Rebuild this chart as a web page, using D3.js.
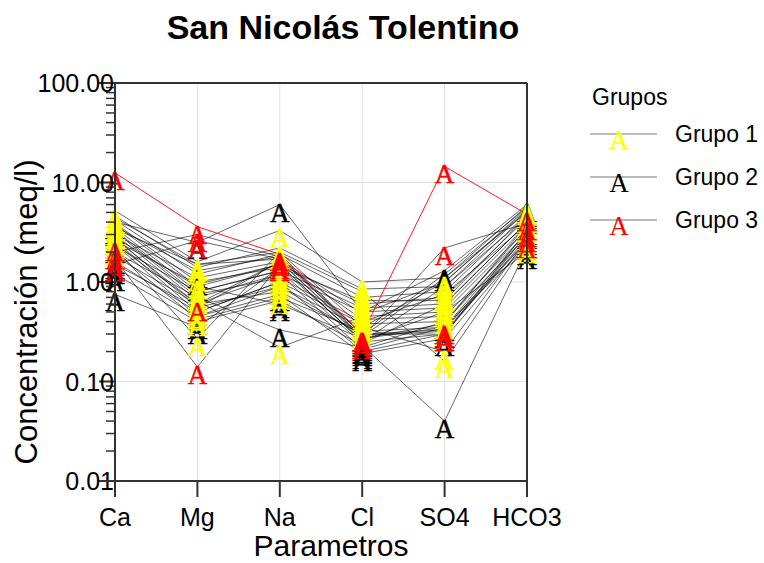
<!DOCTYPE html>
<html>
<head>
<meta charset="utf-8">
<script src="https://cdn.jsdelivr.net/npm/d3@7"></script>
<style>
  body { margin: 0; background: #fff; }
  svg text { font-family: "Liberation Sans", Arial, sans-serif; }
  .grid line { stroke: #e2e2e2; stroke-width: 1; }
  .marker { font-family: "Liberation Serif", "Times New Roman", serif !important; font-size: 27px; stroke-width: 0.5; }
</style>
</head>
<body>
<div id="chart"></div>
<script>
// parametros (eje x)
const params = ["Ca", "Mg", "Na", "Cl", "SO4", "HCO3"];
const yTicks = [100, 10, 1, 0.1, 0.01];
const groupNames = ["Grupo 1", "Grupo 2", "Grupo 3"];

// meq/l por muestra, columnas en el orden de params
const grupo1 = [
  [5.2, 1.6, 3.3, 1.0, 1.1, 5.8],
  [4.6, 1.4, 2.2, 0.85, 0.9, 5.2],
  [4.2, 1.2, 1.9, 0.7, 0.8, 4.8],
  [3.8, 0.9, 1.5, 0.6, 0.7, 4.4],
  [3.5, 0.8, 1.3, 0.55, 0.6, 4.0],
  [3.2, 0.7, 1.2, 0.5, 0.55, 3.7],
  [3.0, 0.65, 0.22, 0.45, 0.5, 3.4],
  [2.8, 0.55, 1.6, 0.42, 0.45, 3.1],
  [2.6, 0.5, 1.0, 0.38, 0.4, 2.9],
  [2.4, 0.45, 0.9, 0.35, 0.2, 2.7],
  [2.2, 0.27, 2.0, 0.8, 0.16, 2.5],
  [3.9, 1.0, 1.4, 0.65, 0.65, 4.6],
  [4.4, 1.5, 1.7, 0.48, 1.0, 5.5],
  [2.7, 0.6, 0.8, 0.3, 0.3, 3.0],
  [3.3, 0.75, 1.1, 0.4, 0.75, 3.8],
  [2.0, 0.42, 0.7, 0.32, 0.35, 2.3]
];
const grupo2 = [
  [4.0, 2.5, 6.0, 0.5, 1.3, 6.0],
  [3.6, 1.3, 1.8, 0.3, 1.2, 5.6],
  [3.0, 1.1, 1.6, 0.28, 1.1, 5.0],
  [2.6, 0.95, 1.5, 0.25, 0.9, 4.5],
  [2.3, 0.8, 1.3, 0.24, 0.6, 4.0],
  [2.0, 0.7, 0.33, 0.22, 0.4, 3.5],
  [1.8, 0.6, 1.2, 0.21, 0.35, 3.2],
  [1.6, 0.5, 1.0, 0.2, 0.3, 2.8],
  [1.4, 0.45, 0.75, 0.19, 0.27, 2.5],
  [1.2, 0.4, 0.65, 0.23, 0.04, 2.2],
  [0.75, 0.35, 1.4, 0.26, 0.5, 2.0],
  [3.4, 1.5, 2.0, 0.35, 1.0, 5.3],
  [2.8, 0.9, 0.6, 0.27, 0.38, 3.8],
  [1.5, 0.55, 0.9, 0.29, 0.32, 2.6]
];
const grupo3 = [
  [12.5, 3.6, 1.9, 0.3, 14.5, 4.8],
  [2.0, 3.0, 1.8, 0.28, 2.2, 3.9],
  [1.7, 0.14, 1.5, 0.25, 0.3, 3.3],
  [1.5, 2.6, 1.7, 0.3, 0.33, 3.0],
  [2.4, 0.6, 1.6, 0.27, 0.35, 2.6]
];

const W = 764, H = 563;
const margin = { left: 115, right: 237, top: 83, bottom: 82 };
const colors = ["#ffff00", "#000000", "#ff0000"];

const svg = d3.select("#chart").append("svg")
  .attr("width", W)
  .attr("height", H);

let x = d3.scalePoint()
  .domain(params)
  .range([margin.left, W - margin.right]);

let y = d3.scaleLog()
  .domain([0.01, 100])
  .range([H - margin.bottom, margin.top]);

// grid
let grid = svg.append("g").attr("class", "grid");
grid.selectAll(".gx")
  .data(params.slice(1, -1))
  .enter().append("line")
    .attr("x1", d => x(d)).attr("x2", d => x(d))
    .attr("y1", margin.top).attr("y2", H - margin.bottom);
grid.selectAll(".gy")
  .data(yTicks.slice(1, -1))
  .enter().append("line")
    .attr("x1", margin.left).attr("x2", W - margin.right)
    .attr("y1", d => y(d)).attr("y2", d => y(d));

// series
let samples = [];
[grupo1, grupo2, grupo3].forEach((g, gi) => {
  g.forEach((vals, si) => samples.push({ group: gi, idx: si, vals: vals }));
});

let line = d3.line()
  .x((d, i) => x(params[i]))
  .y(d => y(d));

svg.append("g").selectAll("path")
  .data(samples)
  .enter().append("path")
    .attr("d", d => line(d.vals))
    .attr("fill", "none")
    .attr("stroke", d => (d.group === 2 && d.idx === 0) ? "#ff0000" : "#000")
    .attr("stroke-opacity", d => (d.group === 2 && d.idx === 0) ? 0.9 : 0.6)
    .attr("stroke-width", 1);

// markers: letra "A" con el vértice en el punto
let markG = svg.append("g");
[1, 0, 2].forEach(gi => {
  samples.filter(s => s.group === gi).forEach(s => {
    s.vals.forEach((v, i) => {
      markG.append("text")
        .attr("class", "marker")
        .attr("x", x(params[i]))
        .attr("y", y(v) + 17)
        .attr("text-anchor", "middle")
        .attr("fill", colors[gi])
        .attr("stroke", colors[gi])
        .text("A");
    });
  });
});

// frame
let frame = svg.append("g")
  .attr("stroke", "#333")
  .attr("stroke-width", 2);
frame.append("line")
  .attr("x1", margin.left).attr("x2", W - margin.right)
  .attr("y1", margin.top).attr("y2", margin.top);
frame.append("line")
  .attr("x1", W - margin.right).attr("x2", W - margin.right)
  .attr("y1", margin.top).attr("y2", H - margin.bottom);

// y axis (log)
let minor = [];
for (let e = -2; e < 2; e++) {
  for (let k = 2; k <= 9; k++) minor.push(k * Math.pow(10, e));
}
let yAxis = svg.append("g")
  .attr("transform", "translate(" + margin.left + ",0)");
yAxis.append("line")
  .attr("y1", margin.top).attr("y2", H - margin.bottom)
  .attr("stroke", "#333").attr("stroke-width", 2);
yAxis.selectAll(".minor")
  .data(minor)
  .enter().append("line")
    .attr("x1", -9).attr("x2", 0)
    .attr("y1", d => y(d)).attr("y2", d => y(d))
    .attr("stroke", "#333").attr("stroke-width", 1.5);
yAxis.selectAll(".major")
  .data(yTicks)
  .enter().append("line")
    .attr("x1", -16).attr("x2", 0)
    .attr("y1", d => y(d)).attr("y2", d => y(d))
    .attr("stroke", "#333").attr("stroke-width", 2);
yAxis.selectAll(".lbl")
  .data(yTicks)
  .enter().append("text")
    .attr("x", -1)
    .attr("y", d => y(d))
    .attr("dy", "0.36em")
    .attr("text-anchor", "end")
    .attr("font-size", 25)
    .attr("fill", "#000")
    .text(d => d3.format(".2f")(d));

// x axis
let xAxis = svg.append("g")
  .attr("transform", "translate(0," + (H - margin.bottom) + ")");
xAxis.append("line")
  .attr("x1", margin.left - 16).attr("x2", W - margin.right)
  .attr("stroke", "#333").attr("stroke-width", 2);
xAxis.selectAll(".tick")
  .data(params)
  .enter().append("line")
    .attr("x1", d => x(d)).attr("x2", d => x(d))
    .attr("y1", 0).attr("y2", 16)
    .attr("stroke", "#333").attr("stroke-width", 2);
xAxis.selectAll(".lbl")
  .data(params)
  .enter().append("text")
    .attr("x", d => x(d))
    .attr("y", 45)
    .attr("text-anchor", "middle")
    .attr("font-size", 25)
    .text(d => d);

// titles
svg.append("text")
  .attr("x", 343).attr("y", 39)
  .attr("text-anchor", "middle")
  .attr("font-size", 34)
  .attr("font-weight", "bold")
  .text("San Nicolás Tolentino");

svg.append("text")
  .attr("x", 331).attr("y", 556)
  .attr("text-anchor", "middle")
  .attr("font-size", 30)
  .text("Parametros");

svg.append("text")
  .attr("transform", "translate(37,312) rotate(-90)")
  .attr("text-anchor", "middle")
  .attr("font-size", 31)
  .text("Concentración (meq/l)");

// legend
let legend = svg.append("g").attr("transform", "translate(590,0)");
legend.append("text")
  .attr("x", 2).attr("y", 105)
  .attr("font-size", 23)
  .text("Grupos");
let items = legend.selectAll(".item")
  .data(groupNames)
  .enter().append("g")
    .attr("transform", (d, i) => "translate(0," + (134 + i * 43) + ")");
items.append("line")
  .attr("x1", 0).attr("x2", 67)
  .attr("stroke", "#777").attr("stroke-width", 1);
items.append("text")
  .attr("class", "marker")
  .attr("x", 29).attr("y", 15)
  .attr("text-anchor", "middle")
  .attr("fill", (d, i) => colors[i])
  .attr("stroke", "none")
  .text("A");
items.append("text")
  .attr("x", 85).attr("y", 8)
  .attr("font-size", 23)
  .text(d => d);
</script>
</body>
</html>
